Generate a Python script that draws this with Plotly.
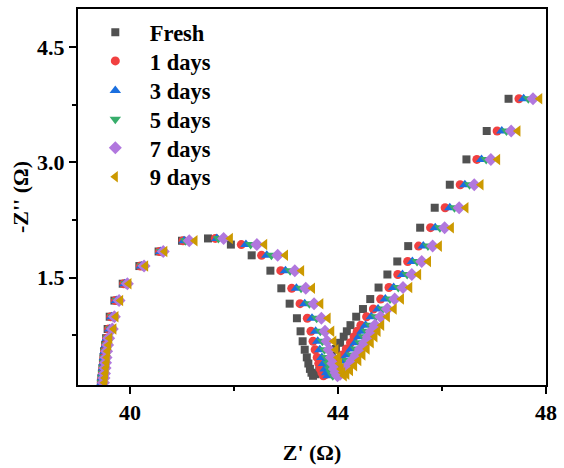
import plotly.graph_objects as go

# -Z'' values shared by every sample (same frequency points)
z_imag = [0.13, 0.19, 0.25, 0.32, 0.39, 0.46, 0.54, 0.62, 0.71, 0.83, 0.99, 1.20, 1.42, 1.65,
          1.84, 1.98, 2.01, 1.93, 1.79, 1.59, 1.36, 1.16, 0.97, 0.80, 0.67, 0.56, 0.46, 0.38,
          0.31, 0.26, 0.22, 0.24, 0.29, 0.35, 0.42, 0.49, 0.57, 0.65, 0.73, 0.80, 0.88, 0.99,
          1.09, 1.22, 1.37, 1.54, 1.71, 1.91, 2.15, 2.41, 2.71, 3.04, 3.41, 3.83]

# Z' values per sample
z_real_fresh = [39.44, 39.45, 39.46, 39.47, 39.48, 39.49, 39.50, 39.52, 39.54, 39.57, 39.61, 39.70,
                39.86, 40.18, 40.55, 41.00, 41.50, 41.94, 42.34, 42.70, 42.91, 43.07, 43.21, 43.28,
                43.32, 43.36, 43.40, 43.43, 43.46, 43.49, 43.52, 43.57, 43.64, 43.72, 43.80, 43.88,
                43.96, 44.04, 44.11, 44.17, 44.24, 44.35, 44.48, 44.62, 44.78, 44.95, 45.14, 45.35,
                45.58, 45.86, 46.15, 46.47, 46.86, 47.28]
z_real_1d = [39.45, 39.46, 39.47, 39.48, 39.49, 39.50, 39.51, 39.53, 39.55, 39.59, 39.63, 39.72,
             39.88, 40.20, 40.57, 41.02, 41.64, 42.14, 42.53, 42.90, 43.11, 43.27, 43.41, 43.48,
             43.52, 43.56, 43.60, 43.63, 43.66, 43.69, 43.72, 43.77, 43.84, 43.92, 44.00, 44.08,
             44.16, 44.24, 44.31, 44.37, 44.44, 44.55, 44.68, 44.82, 44.98, 45.15, 45.34, 45.55,
             45.78, 46.06, 46.35, 46.67, 47.06, 47.48]
z_real_3d = [39.46, 39.47, 39.48, 39.49, 39.50, 39.51, 39.52, 39.54, 39.56, 39.61, 39.65, 39.74,
             39.90, 40.22, 40.59, 41.04, 41.67, 42.23, 42.63, 42.99, 43.20, 43.36, 43.50, 43.57,
             43.61, 43.65, 43.69, 43.72, 43.75, 43.78, 43.81, 43.86, 43.93, 44.01, 44.09, 44.17,
             44.25, 44.33, 44.40, 44.46, 44.53, 44.64, 44.77, 44.91, 45.07, 45.24, 45.43, 45.64,
             45.87, 46.15, 46.44, 46.76, 47.15, 47.57]
z_real_5d = [39.47, 39.48, 39.49, 39.50, 39.51, 39.52, 39.53, 39.55, 39.57, 39.63, 39.67, 39.76,
             39.92, 40.24, 40.61, 41.07, 41.70, 42.32, 42.72, 43.08, 43.29, 43.45, 43.59, 43.66,
             43.70, 43.74, 43.78, 43.81, 43.84, 43.87, 43.90, 43.95, 44.02, 44.10, 44.18, 44.26,
             44.34, 44.42, 44.49, 44.55, 44.62, 44.73, 44.86, 45.00, 45.16, 45.33, 45.52, 45.73,
             45.96, 46.24, 46.53, 46.85, 47.24, 47.66]
z_real_7d = [39.49, 39.50, 39.51, 39.52, 39.53, 39.54, 39.55, 39.57, 39.59, 39.66, 39.70, 39.79,
             39.95, 40.27, 40.64, 41.14, 41.80, 42.44, 42.84, 43.17, 43.38, 43.54, 43.68, 43.75,
             43.79, 43.83, 43.87, 43.90, 43.93, 43.96, 43.99, 44.04, 44.11, 44.19, 44.27, 44.35,
             44.43, 44.51, 44.58, 44.64, 44.71, 44.82, 44.95, 45.09, 45.25, 45.42, 45.61, 45.82,
             46.05, 46.33, 46.62, 46.94, 47.33, 47.75]
z_real_9d = [39.51, 39.52, 39.53, 39.54, 39.55, 39.56, 39.57, 39.59, 39.61, 39.69, 39.73, 39.82,
             39.98, 40.30, 40.67, 41.25, 41.93, 42.59, 42.99, 43.30, 43.51, 43.67, 43.81, 43.88,
             43.92, 43.96, 44.00, 44.03, 44.06, 44.09, 44.12, 44.17, 44.24, 44.32, 44.40, 44.48,
             44.56, 44.64, 44.71, 44.77, 44.84, 44.95, 45.08, 45.22, 45.38, 45.55, 45.74, 45.95,
             46.18, 46.46, 46.75, 47.07, 47.46, 47.88]

sample_names = ["Fresh", "1 days", "3 days", "5 days", "7 days", "9 days"]
sample_x = [z_real_fresh, z_real_1d, z_real_3d, z_real_5d, z_real_7d, z_real_9d]
colors = ["#515151", "#F14040", "#1A6FDF", "#37AD6B", "#B177DE", "#CC9900"]
symbols = ["square", "circle", "triangle-up", "triangle-down", "diamond", "triangle-left"]
sizes = [8, 9, 10, 10, 10, 10]

FONT = "Liberation Serif, Times New Roman, serif"
LEGEND_FONT = dict(family=FONT, size=22.5, color="black", weight="bold")

fig = go.Figure()
legend_ids = ["legend"] + [f"legend{i + 1}" for i in range(1, len(sample_names))]
for i, name in enumerate(sample_names):
    fig.add_trace(go.Scatter(
        x=sample_x[i], y=z_imag, mode="markers", name=name,
        legend=legend_ids[i],
        marker=dict(symbol=symbols[i], color=colors[i], size=sizes[i], line=dict(width=0)),
    ))

axis_common = dict(
    showline=True, linecolor="black", linewidth=2, mirror=True,
    ticks="outside", ticklen=7, tickwidth=2, tickcolor="black",
    showgrid=False, zeroline=False,
    tickfont=dict(family=FONT, size=22, color="black", weight="bold"),
)

fig.update_xaxes(
    range=[39, 48], tick0=0, dtick=4,
    minor=dict(ticks="outside", ticklen=4, tickwidth=2, tickcolor="black", dtick=2, tick0=0),
    title=dict(text="Z' (Ω)", font=dict(family=FONT, size=22, color="black", weight="bold"), standoff=20),
    **axis_common,
)
fig.update_yaxes(
    range=[0.1, 5.0], tick0=0, dtick=1.5, tickformat=".1f",
    minor=dict(ticks="outside", ticklen=4, tickwidth=2, tickcolor="black", dtick=0.75, tick0=0),
    title=dict(text="-Z'' (Ω)", font=dict(family=FONT, size=22, color="black", weight="bold"), standoff=2),
    **axis_common,
)

# one single-entry legend per sample, stacked in the upper-left corner
row_y = [0.937, 0.861, 0.782, 0.706, 0.630, 0.553]
legend_layout = {}
for i, lid in enumerate(legend_ids):
    legend_layout[lid] = dict(
        x=0.006, y=row_y[i], xanchor="left", yanchor="middle",
        bgcolor="rgba(0,0,0,0)", borderwidth=0,
        font=LEGEND_FONT, itemwidth=59,
    )

fig.update_layout(
    width=564, height=468,
    margin=dict(l=78, r=14, t=7, b=80),
    paper_bgcolor="white", plot_bgcolor="white",
    showlegend=True,
    **legend_layout,
)

fig.write_html("out.html")
